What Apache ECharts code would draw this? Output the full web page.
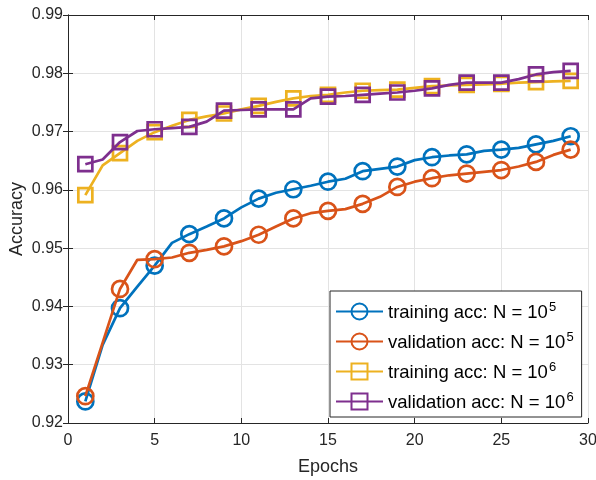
<!DOCTYPE html>
<html>
<head>
<meta charset="utf-8">
<script src="https://cdn.jsdelivr.net/npm/echarts@6/dist/echarts.min.js"></script>
<style>
html, body { margin: 0; padding: 0; background: #fff; }
#chart { width: 596px; height: 480px; }
</style>
</head>
<body>
<div id="chart"></div>
<script>
// Accuracy per epoch for two training-set sizes
const epochs = [1, 2, 3, 4, 5, 6, 7, 8, 9, 10, 11, 12, 13, 14, 15, 16, 17, 18, 19, 20, 21, 22, 23, 24, 25, 26, 27, 28, 29];
const trainAccN5 = [0.9237, 0.9334, 0.9397, 0.9434, 0.9470, 0.9509, 0.9524, 0.9537, 0.9551, 0.9570,
  0.9585, 0.9595, 0.9601, 0.9607, 0.9614, 0.9619, 0.9632, 0.9636, 0.9640, 0.9651,
  0.9656, 0.9659, 0.9661, 0.9667, 0.9669, 0.9672, 0.9678, 0.9684, 0.9692];
const validAccN5 = [0.9246, 0.9338, 0.9430, 0.9480, 0.9481, 0.9484, 0.9492, 0.9497, 0.9503, 0.9512,
  0.9523, 0.9537, 0.9551, 0.9560, 0.9564, 0.9567, 0.9576, 0.9588, 0.9605, 0.9614,
  0.9620, 0.9625, 0.9628, 0.9631, 0.9634, 0.9640, 0.9648, 0.9660, 0.9669];
const trainAccN6 = [0.9591, 0.9642, 0.9663, 0.9684, 0.9699, 0.9710, 0.9720, 0.9726, 0.9731, 0.9738,
  0.9744, 0.9751, 0.9757, 0.9761, 0.9763, 0.9767, 0.9770, 0.9771, 0.9772, 0.9775,
  0.9778, 0.9779, 0.9780, 0.9781, 0.9782, 0.9784, 0.9785, 0.9786, 0.9787];
const validAccN6 = [0.9644, 0.9652, 0.9682, 0.9701, 0.9704, 0.9706, 0.9708, 0.9717, 0.9736, 0.9737,
  0.9738, 0.9738, 0.9738, 0.9757, 0.9760, 0.9761, 0.9763, 0.9765, 0.9767, 0.9770,
  0.9774, 0.9780, 0.9784, 0.9784, 0.9784, 0.9790, 0.9798, 0.9802, 0.9804];

const seriesNames = [
  'training acc: N = 10^5',
  'validation acc: N = 10^5',
  'training acc: N = 10^6',
  'validation acc: N = 10^6'
];
const xTicks = [0, 5, 10, 15, 20, 25, 30];
const yTicks = [0.92, 0.93, 0.94, 0.95, 0.96, 0.97, 0.98, 0.99];

const colors = ['#0072BD', '#D95319', '#EDB120', '#7E2F8E'];
const symbols = ['circle', 'circle', 'rect', 'rect'];
const values = [trainAccN5, validAccN5, trainAccN6, validAccN6];
const FONT = '"Liberation Sans", Arial, Helvetica, sans-serif';
const AXIS_COLOR = '#262626';

// markers on odd epochs only; the line runs through every epoch
function buildData(vals) {
  return epochs.map((e, i) => {
    const item = { value: [e, vals[i]] };
    if (e % 2 === 0) item.symbol = 'none';
    return item;
  });
}

const series = values.map((vals, k) => ({
  name: seriesNames[k],
  type: 'line',
  data: buildData(vals),
  symbol: symbols[k],
  symbolSize: symbols[k] === 'circle' ? 16 : 14,
  showAllSymbol: true,
  lineStyle: { color: colors[k], width: 2.7 },
  itemStyle: { color: 'rgba(255,255,255,0)', borderColor: colors[k], borderWidth: 2.7 },
  emphasis: { disabled: true },
  z: 2 + k
}));

const chart = echarts.init(document.getElementById('chart'), null, { renderer: 'canvas' });

const baseAxis = {
  axisLine: { show: true, lineStyle: { color: AXIS_COLOR, width: 1 } },
  axisTick: { show: true, inside: true, length: 5, lineStyle: { color: AXIS_COLOR } },
  axisLabel: { color: AXIS_COLOR, fontFamily: FONT, fontSize: 16 },
  nameTextStyle: { color: AXIS_COLOR, fontFamily: FONT, fontSize: 18 },
  nameMoveOverlap: false
};

chart.setOption({
  animation: false,
  backgroundColor: '#fff',
  grid: { left: 68, right: 8, top: 15, bottom: 57, containLabel: false, outerBoundsMode: 'none' },
  xAxis: [
    Object.assign({}, baseAxis, {
      type: 'value', min: xTicks[0], max: xTicks[xTicks.length - 1], interval: 5,
      name: 'Epochs', nameLocation: 'middle', nameGap: 35,
      axisLabel: Object.assign({}, baseAxis.axisLabel, { margin: 10 }),
      splitLine: { show: true, lineStyle: { color: '#e3e3e3', width: 1 } }
    }),
    Object.assign({}, baseAxis, {
      type: 'value', position: 'top', min: xTicks[0], max: xTicks[xTicks.length - 1], interval: 5,
      axisLabel: { show: false }, splitLine: { show: false }
    })
  ],
  yAxis: [
    Object.assign({}, baseAxis, {
      type: 'value', min: yTicks[0], max: yTicks[yTicks.length - 1], interval: 0.01,
      name: 'Accuracy', nameLocation: 'middle', nameGap: 42,
      axisLabel: Object.assign({}, baseAxis.axisLabel, { margin: 5, formatter: v => v.toFixed(2) }),
      splitLine: { show: true, lineStyle: { color: '#e3e3e3', width: 1 } }
    }),
    Object.assign({}, baseAxis, {
      type: 'value', position: 'right', min: yTicks[0], max: yTicks[yTicks.length - 1], interval: 0.01,
      axisLabel: { show: false }, splitLine: { show: false }
    })
  ],
  legend: {
    orient: 'vertical',
    left: 330,
    top: 291,
    width: 254,
    padding: [10, 8, 5, 5],
    itemGap: 9,
    itemWidth: 47,
    itemHeight: 20,
    itemTextGap: 4,
    backgroundColor: '#fff',
    borderColor: AXIS_COLOR,
    borderWidth: 1,
    selectedMode: false,
    data: seriesNames,
    formatter: name => {
      const parts = name.split('^');
      return '{t|' + parts[0] + '}{s|' + parts[1] + '}';
    },
    textStyle: {
      rich: {
        t: { fontFamily: FONT, fontSize: 18.5, color: '#000', lineHeight: 21, verticalAlign: 'bottom' },
        s: { fontFamily: FONT, fontSize: 13, color: '#000', lineHeight: 21, verticalAlign: 'top', padding: [0, 0, 0, 1] }
      }
    }
  },
  series: series
});
</script>
</body>
</html>
